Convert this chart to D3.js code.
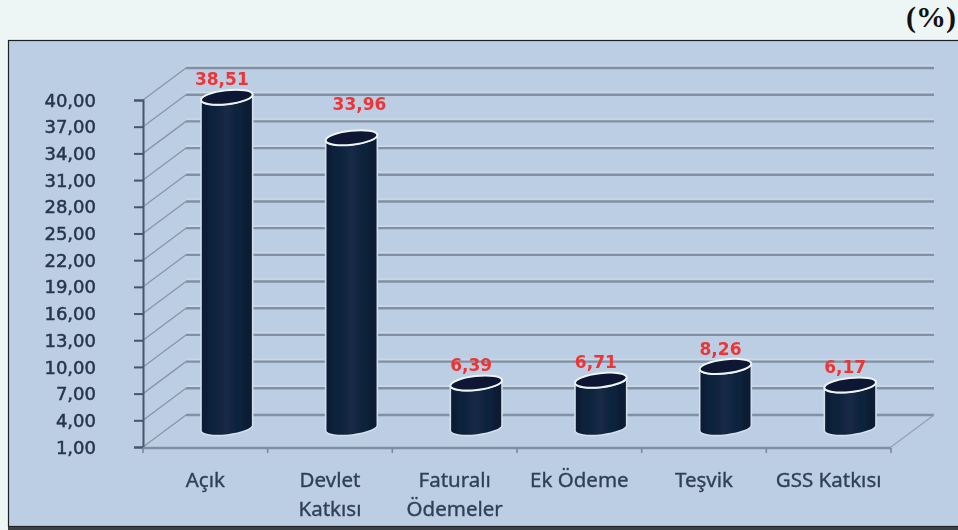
<!DOCTYPE html>
<html>
<head>
<meta charset="utf-8">
<title>Grafik</title>
<script src="https://cdn.jsdelivr.net/npm/d3@7"></script>
<style>
	html,body{margin:0;padding:0;background:#edf6f5;}
	svg{display:block;}
</style>
</head>
<body>
<svg width="958" height="530"></svg>
<script>
	// data
	var categories = ["Açık","Devlet\nKatkısı","Faturalı\nÖdemeler","Ek Ödeme","Teşvik","GSS Katkısı"];
	var values = [38.51,33.96,6.39,6.71,8.26,6.17];
	var valueLabels = ["38,51","33,96","6,39","6,71","8,26","6,17"];
	var tickValues = [1,4,7,10,13,16,19,22,25,28,31,34,37,40];

	var svg = d3.select("svg");

	var plot = {left:143,right:891,top:100,bottom:447};
	var depth = {x:43,y:-32};   // 3d wall offset
	var rx = 26, ry = 7, tilt = -6.5;

	var x = d3.scaleBand().domain(d3.range(categories.length)).range([plot.left,plot.right]);
	var y = d3.scaleLinear().domain([1,40]).range([plot.bottom,plot.top]);

	// gradient for the cylinders
	var defs = svg.append("defs");
	var grad = defs.append("linearGradient").attr("id","cyl");
	grad.append("stop").attr("offset","0%").attr("stop-color","#0d1c33");
	grad.append("stop").attr("offset","50%").attr("stop-color","#132a46");
	grad.append("stop").attr("offset","100%").attr("stop-color","#0c1a30");
	defs.append("filter").attr("id","soft").append("feGaussianBlur").attr("stdDeviation",0.6);
	defs.append("filter").attr("id","soft2").append("feGaussianBlur").attr("stdDeviation",0.4);

	// panel
	svg.append("rect").attr("x",8.5).attr("y",40.5).attr("width",960).attr("height",486)
		.attr("fill","#bccee3").attr("stroke","#1d2125").attr("stroke-width",1.2);
	svg.append("rect").attr("x",8).attr("y",527).attr("width",950).attr("height",3).attr("fill","#3b4044");

	svg.append("text").attr("x",956).attr("y",27).attr("text-anchor","end")
		.attr("font-family","Liberation Serif").attr("font-weight","bold").attr("font-size",30)
		.attr("fill","#111").text("(%)");

	var g = svg.append("g").attr("filter","url(#soft)");

	// grid: highlight, diagonal on the side wall, long line on the back wall
	var grid = g.append("g").selectAll("g").data(tickValues.slice().reverse()).enter().append("g");
	grid.append("line")
		.attr("x1",plot.left).attr("y1",function(d){return y(d);})
		.attr("x2",plot.left+depth.x).attr("y2",function(d){return y(d)+depth.y;})
		.attr("stroke","#8796a8").attr("stroke-width",1.3);
	grid.filter(function(d){return d>1;}).append("line")
		.attr("x1",plot.left+depth.x).attr("y1",function(d){return y(d)+depth.y-2.2;})
		.attr("x2",plot.right+depth.x).attr("y2",function(d){return y(d)+depth.y-2.2;})
		.attr("stroke","#c9d6e5").attr("stroke-width",2);
	grid.append("line")
		.attr("x1",plot.left+depth.x).attr("y1",function(d){return y(d)+depth.y;})
		.attr("x2",plot.right+depth.x).attr("y2",function(d){return y(d)+depth.y;})
		.attr("stroke","#8191a3").attr("stroke-width",2.4);

	// floor edge on the right
	g.append("line")
		.attr("x1",plot.right).attr("y1",y(1))
		.attr("x2",plot.right+depth.x).attr("y2",y(1)+depth.y)
		.attr("stroke","#93a2b3").attr("stroke-width",1.3);

	// axes
	var yAxis = d3.axisLeft(y).tickValues(tickValues).tickSize(9).tickPadding(38)
		.tickFormat(function(d){return d3.format(".2f")(d).replace(".",",");});
	var yg = g.append("g").attr("transform","translate("+plot.left+",0)").call(yAxis);
	yg.select(".domain").attr("stroke","#46566a").attr("stroke-width",2);
	yg.selectAll(".tick line").attr("stroke","#46566a").attr("stroke-width",2);
	yg.selectAll("text").attr("font-family","DejaVu Sans").attr("font-size",18).attr("fill","#26364c")
		.attr("stroke","#26364c").attr("stroke-width",0.5)
		.attr("text-anchor","end").attr("dy","0.34em");

	var floorY = plot.bottom+1;
	g.append("line").attr("x1",plot.left).attr("x2",plot.right).attr("y1",floorY).attr("y2",floorY)
		.attr("stroke","#7f8fa1").attr("stroke-width",2.6);
	g.append("g").selectAll("line").data(d3.range(categories.length+1)).enter().append("line")
		.attr("x1",function(d){return plot.left+d*x.step();})
		.attr("x2",function(d){return plot.left+d*x.step();})
		.attr("y1",floorY).attr("y2",floorY+5)
		.attr("stroke","#7a8a9d").attr("stroke-width",1.6);

	// cylinders
	function cx(i){return x(i)+x.bandwidth()/2+depth.x/2;}
	function topY(v){return y(v)+depth.y/2;}
	var rad = tilt*Math.PI/180;
	var dx = rx*Math.cos(rad), dy = rx*Math.sin(rad);

	var bars = g.append("g").selectAll("g").data(values).enter().append("g");
	bars.append("path")
		.attr("d",function(d,i){
			var c = cx(i), t = topY(d), b = y(1)+depth.y/2-3;
			return "M"+(c-dx)+","+(t-dy)+"L"+(c-dx)+","+(b-dy)
				+"A"+rx+","+ry+" "+tilt+" 0 0 "+(c+dx)+","+(b+dy)
				+"L"+(c+dx)+","+(t+dy)
				+"A"+rx+","+ry+" "+tilt+" 0 1 "+(c-dx)+","+(t-dy)+"Z";
		})
		.attr("fill","url(#cyl)").attr("stroke","#d3dfeb").attr("stroke-width",1.6);
	bars.append("ellipse")
		.attr("rx",rx).attr("ry",ry)
		.attr("transform",function(d,i){return "translate("+cx(i)+","+topY(d)+") rotate("+tilt+")";})
		.attr("fill","#0b1930").attr("stroke","#eef3f7").attr("stroke-width",2);

	// value labels, second one sits higher in the original
	svg.append("g").attr("filter","url(#soft2)").selectAll("text").data(values).enter().append("text")
		.attr("x",function(d,i){return cx(i)+(i==1?8:-5);})
		.attr("y",function(d,i){return topY(d)-(i==1?34:18);})
		.attr("dy","0.36em")
		.attr("text-anchor","middle")
		.attr("font-family","DejaVu Sans").attr("font-weight","bold").attr("font-size",17)
		.attr("fill","#ee3434")
		.text(function(d,i){return valueLabels[i];});

	// category labels
	var xAxis = d3.axisBottom(x).tickSize(0).tickPadding(0).tickFormat("");
	var xg = svg.append("g").attr("transform","translate(0,"+plot.bottom+")").call(xAxis);
	xg.select(".domain").remove();
	xg.selectAll(".tick").each(function(d){
		var t = d3.select(this).select("text")
			.attr("font-family","Noto Sans").attr("font-size",20.5).attr("fill","#2f4159")
			.attr("stroke","#2f4159").attr("stroke-width",0.35).attr("y",0).attr("dy",null);
		categories[d].split("\n").forEach(function(line,k){
			t.append("tspan").attr("x",0).attr("y",40+k*29).text(line);
		});
	});
	xg.attr("filter","url(#soft2)");
</script>
</body>
</html>
